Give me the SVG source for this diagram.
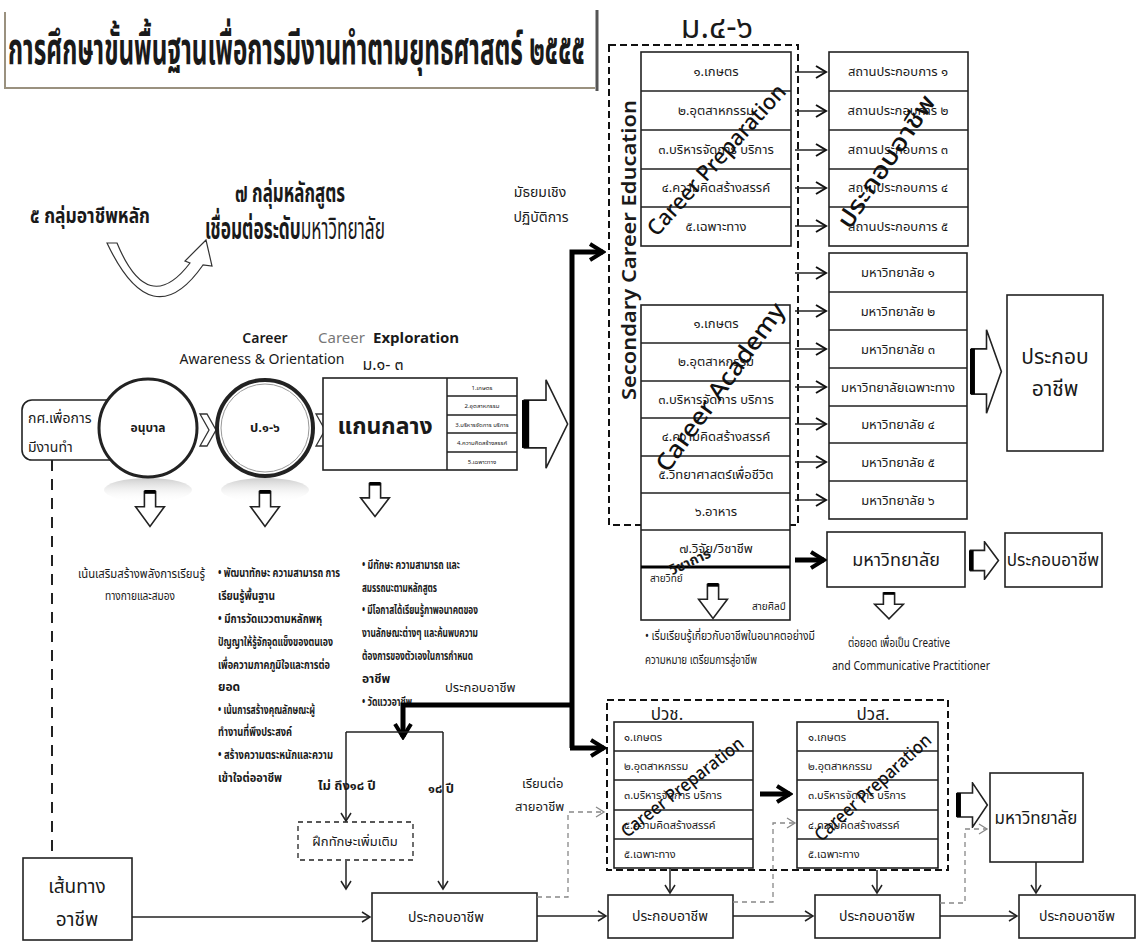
<svg xmlns="http://www.w3.org/2000/svg" width="1139" height="944" viewBox="0 0 1139 944">
<style>
text{font-family:"Noto Sans Thai","Noto Sans","DejaVu Sans",sans-serif;fill:#1a1a1a}
.c{text-anchor:middle}
.b{font-weight:bold}
.box{fill:#fff;stroke:#222;stroke-width:1.6}
.ln{fill:none;stroke:#222;stroke-width:1.5}
.dash{fill:none;stroke:#111;stroke-width:2;stroke-dasharray:7 4}
.gd{fill:none;stroke:#888;stroke-width:1.3;stroke-dasharray:5 4}
.thick{fill:none;stroke:#000;stroke-width:5}
.t11{font-size:11px}.t12{font-size:12px}.t13{font-size:13px}
.rot{font-weight:500;fill:#111}
</style>
<defs>
<marker id="v" viewBox="0 0 14 14" refX="12" refY="7" markerWidth="14" markerHeight="14" markerUnits="userSpaceOnUse" orient="auto"><path d="M2,1 L12,7 L2,13" fill="none" stroke="#111" stroke-width="2"/></marker>
<marker id="vs" viewBox="0 0 12 12" refX="10" refY="6" markerWidth="12" markerHeight="12" markerUnits="userSpaceOnUse" orient="auto"><path d="M2,1 L10,6 L2,11" fill="none" stroke="#222" stroke-width="1.5"/></marker>
<marker id="vg" viewBox="0 0 12 12" refX="10" refY="6" markerWidth="12" markerHeight="12" markerUnits="userSpaceOnUse" orient="auto"><path d="M2,1 L10,6 L2,11" fill="none" stroke="#888" stroke-width="1.3"/></marker>
<marker id="vb" viewBox="0 0 20 20" refX="17" refY="10" markerWidth="20" markerHeight="20" markerUnits="userSpaceOnUse" orient="auto"><path d="M4,2 L17,10 L4,18" fill="none" stroke="#000" stroke-width="4"/></marker>
<symbol id="harr" viewBox="0 0 40 100" preserveAspectRatio="none"><path d="M2,24 H20 V2 L38,50 L20,98 V76 H2 Z" fill="#fff" stroke="#222" stroke-width="1.6" vector-effect="non-scaling-stroke"/><rect x="0" y="24" width="6" height="52" fill="#000"/></symbol>
<symbol id="darr" viewBox="0 0 40 50" preserveAspectRatio="none"><path d="M13,2 H27 V22 H38 L20,48 L2,22 H13 Z" fill="#fff" stroke="#222" stroke-width="1.6" vector-effect="non-scaling-stroke"/><rect x="13" y="0" width="14" height="5" fill="#000"/></symbol>
<linearGradient id="shd" x1="0" y1="0" x2="0" y2="1"><stop offset="0" stop-color="#aaa" stop-opacity="0.6"/><stop offset="1" stop-color="#fff" stop-opacity="0"/></linearGradient>
</defs>

<g id="title">
<path d="M5,12 V88 H595" fill="none" stroke="#9a917f" stroke-width="2"/>
<path d="M597,10 V91" fill="none" stroke="#555" stroke-width="3"/>
<text x="8" y="64" class="b" font-size="44" textLength="577" lengthAdjust="spacingAndGlyphs">การศึกษาขั้นพื้นฐานเพื่อการมีงานทำตามยุทธศาสตร์ ๒๕๕๕</text>
</g>
<text x="717" y="38" class="c" font-size="32">ม.๔-๖</text>

<g id="labels-top">
<text x="30" y="223" class="b" font-size="22" textLength="120" lengthAdjust="spacingAndGlyphs">๕ กลุ่มอาชีพหลัก</text>
<text x="235" y="202" class="b" font-size="26" textLength="110" lengthAdjust="spacingAndGlyphs">๗ กลุ่มหลักสูตร</text>
<text x="205" y="239" font-size="30" textLength="180" lengthAdjust="spacingAndGlyphs"><tspan font-weight="bold">เชื่อมต่อระดับ</tspan>มหาวิทยาลัย</text>
<path d="M107,243 H117 Q148,318 190,263 L185,261 L206,240 L212,266 L203,265 Q152,338 107,243 Z" fill="#fff" stroke="#333" stroke-width="1.2"/>
<text x="540" y="197" class="c" font-size="14">มัธยมเชิง</text>
<text x="541" y="222" class="c" font-size="14">ปฏิบัติการ</text>
</g>

<g id="career-labels">
<text x="265" y="343" class="c" font-size="14" font-weight="600" fill="#333">Career</text>
<text x="262" y="364" class="c" font-size="14" textLength="165" lengthAdjust="spacingAndGlyphs">Awareness &amp; Orientation</text>
<text x="318" y="343" font-size="15" style="fill:#777">Career</text>
<text x="373" y="343" font-size="15" class="b">Exploration</text>
<text x="383" y="370" class="c" font-size="16">ม.๑- ๓</text>
</g>

<g id="node-kor-sor">
<rect x="22" y="400" width="100" height="60" rx="10" class="box" stroke-width="2.5"/>
<text x="28" y="423" font-size="14">กศ.เพื่อการ</text>
<text x="28" y="452" font-size="14">มีงานทำ</text>
</g>
<g id="node-anuban">
<ellipse cx="148" cy="490" rx="44" ry="12" fill="url(#shd)"/>
<circle cx="148" cy="428" r="49" fill="#fff" stroke="#222" stroke-width="3"/>
<text x="148" y="432" class="c b t12">อนุบาล</text>
</g>
<path id="chev1" d="M200,414 L207,414 L216,430 L207,446 L200,446 L209,430 Z" fill="#fff" stroke="#333" stroke-width="1.3"/>
<g id="node-p1-6">
<ellipse cx="265" cy="490" rx="44" ry="12" fill="url(#shd)"/>
<circle cx="265" cy="428" r="48" fill="#fff" stroke="#222" stroke-width="4"/>
<circle cx="265" cy="428" r="44" fill="none" stroke="#999" stroke-width="1"/>
<text x="265" y="432" class="c b" font-size="13">ป.๑-๖</text>
</g>
<path id="chev2" d="M316,414 L323,414 L332,430 L323,446 L316,446 L325,430 Z" fill="#fff" stroke="#333" stroke-width="1.3"/>

<g id="node-core">
<rect x="323" y="378" width="194" height="92" class="box"/>
<path d="M447,378 V470 M447,396 H517 M447,415 H517 M447,433 H517 M447,452 H517" class="ln" stroke-width="1.2"/>
<text x="482" y="390" class="c" font-size="6">1.เกษตร</text>
<text x="482" y="408" class="c" font-size="6">2.อุตสาหกรรม</text>
<text x="482" y="427" class="c" font-size="6">3.บริหารจัดการ บริการ</text>
<text x="482" y="445" class="c" font-size="6">4.ความคิดสร้างสรรค์</text>
<text x="482" y="464" class="c" font-size="6">5.เฉพาะทาง</text>
<text x="385" y="434" class="c b" font-size="23">แกนกลาง</text>
</g>
<use href="#harr" x="522" y="378" width="48" height="92"/>

<use href="#darr" x="134" y="490" width="32" height="38"/>
<use href="#darr" x="249" y="490" width="32" height="38"/>
<use href="#darr" x="359" y="482" width="32" height="36"/>

<g id="desc1" class="t12">
<text x="78" y="578" textLength="127" lengthAdjust="spacingAndGlyphs">เน้นเสริมสร้างพลังการเรียนรู้</text>
<text x="140" y="600" class="c" textLength="70" lengthAdjust="spacingAndGlyphs">ทางกายและสมอง</text>
</g>
<g id="desc2" class="t12 b">
<text x="218" y="577" textLength="122" lengthAdjust="spacingAndGlyphs">• พัฒนาทักษะ ความสามารถ การ</text>
<text x="218" y="600" textLength="57" lengthAdjust="spacingAndGlyphs">เรียนรู้พื้นฐาน</text>
<text x="218" y="623" textLength="104" lengthAdjust="spacingAndGlyphs">• มีการวัดแววตามหลักพหุ</text>
<text x="218" y="646" textLength="115" lengthAdjust="spacingAndGlyphs">ปัญญาให้รู้จักจุดแข็งของตนเอง</text>
<text x="218" y="669" textLength="112" lengthAdjust="spacingAndGlyphs">เพื่อความภาคภูมิใจและการต่อ</text>
<text x="218" y="691">ยอด</text>
<text x="218" y="714" textLength="97" lengthAdjust="spacingAndGlyphs">• เน้นการสร้างคุณลักษณะผู้</text>
<text x="218" y="736" textLength="74" lengthAdjust="spacingAndGlyphs">ทำงานที่พึงประสงค์</text>
<text x="218" y="759" textLength="115" lengthAdjust="spacingAndGlyphs">• สร้างความตระหนักและความ</text>
<text x="218" y="782" textLength="64" lengthAdjust="spacingAndGlyphs">เข้าใจต่ออาชีพ</text>
</g>
<g id="desc3" class="t12 b">
<text x="362" y="569" textLength="98" lengthAdjust="spacingAndGlyphs">• มีทักษะ ความสามารถ และ</text>
<text x="362" y="592" textLength="75" lengthAdjust="spacingAndGlyphs">สมรรถนะตามหลักสูตร</text>
<text x="362" y="614" textLength="116" lengthAdjust="spacingAndGlyphs">• มีโอกาสได้เรียนรู้ภาพอนาคตของ</text>
<text x="362" y="637" textLength="116" lengthAdjust="spacingAndGlyphs">งานลักษณะต่างๆ และค้นพบความ</text>
<text x="362" y="660" textLength="111" lengthAdjust="spacingAndGlyphs">ต้องการของตัวเองในการกำหนด</text>
<text x="362" y="683">อาชีพ</text>
<text x="362" y="706" textLength="50" lengthAdjust="spacingAndGlyphs">• วัดแววอาชีพ</text>
</g>

<g id="secondary-group">
<rect x="609" y="45" width="189" height="480" class="dash"/>
<text transform="translate(636,250) rotate(-90)" class="c" font-size="20" font-weight="600" textLength="300" lengthAdjust="spacingAndGlyphs">Secondary  Career  Education</text>
</g>

<g id="list-prep">
<rect x="641" y="52" width="150" height="194" class="box"/>
<path d="M641,91 H791 M641,130 H791 M641,169 H791 M641,207 H791" class="ln"/>
<text x="716" y="76" class="c t13">๑.เกษตร</text>
<text x="716" y="115" class="c t13">๒.อุตสาหกรรม</text>
<text x="716" y="154" class="c t13">๓.บริหารจัดการ บริการ</text>
<text x="716" y="192" class="c t13">๔.ความคิดสร้างสรรค์</text>
<text x="716" y="231" class="c t13">๕.เฉพาะทาง</text>
</g>
<g id="list-workplace">
<rect x="829" y="52" width="139" height="194" class="box"/>
<path d="M829,91 H968 M829,130 H968 M829,169 H968 M829,207 H968" class="ln"/>
<text x="898" y="76" class="c t13">สถานประกอบการ ๑</text>
<text x="898" y="115" class="c t13">สถานประกอบการ ๒</text>
<text x="898" y="154" class="c t13">สถานประกอบการ ๓</text>
<text x="898" y="192" class="c t13">สถานประกอบการ ๔</text>
<text x="898" y="231" class="c t13">สถานประกอบการ ๕</text>
</g>
<text transform="translate(722,165) rotate(-48)" class="c rot" font-size="22" textLength="195" lengthAdjust="spacingAndGlyphs">Career Preparation</text>
<text transform="translate(893,166) rotate(-56)" class="c rot" font-size="24" textLength="155" lengthAdjust="spacingAndGlyphs">ประกอบอาชีพ</text>

<g id="list-academy">
<rect x="641" y="305" width="149" height="315" class="box"/>
<path d="M641,343 H790 M641,381 H790 M641,418 H790 M641,456 H790 M641,493 H790 M641,530 H790" class="ln"/>
<path d="M641,567 H790" fill="none" stroke="#000" stroke-width="3"/>
<text x="716" y="328" class="c t13">๑.เกษตร</text>
<text x="716" y="366" class="c t13">๒.อุตสาหกรรม</text>
<text x="716" y="404" class="c t13">๓.บริหารจัดการ บริการ</text>
<text x="716" y="441" class="c t13">๔.ความคิดสร้างสรรค์</text>
<text x="716" y="479" class="c t13">๕.วิทยาศาสตร์เพื่อชีวิต</text>
<text x="716" y="516" class="c t13">๖.อาหาร</text>
<text x="716" y="553" class="c t13">๗.วิจัย/วิชาชีพ</text>
<text x="650" y="582" font-size="10">สายวิทย์</text>
<text x="752" y="610" font-size="10">สายศิลป์</text>
</g>
<use href="#darr" x="697" y="583" width="32" height="37"/>
<text transform="translate(727,392) rotate(-54)" class="c rot" font-size="24" textLength="202" lengthAdjust="spacingAndGlyphs">Career Academy</text>
<text transform="translate(692,566) rotate(-25)" class="c b" font-size="14">วิชาการ</text>

<g id="list-university">
<rect x="829" y="253" width="138" height="266" class="box"/>
<path d="M829,292 H967 M829,330 H967 M829,368 H967 M829,406 H967 M829,443 H967 M829,481 H967" class="ln"/>
<text x="898" y="277" class="c t13">มหาวิทยาลัย ๑</text>
<text x="898" y="316" class="c t13">มหาวิทยาลัย ๒</text>
<text x="898" y="354" class="c t13">มหาวิทยาลัย ๓</text>
<text x="898" y="392" class="c t13">มหาวิทยาลัยเฉพาะทาง</text>
<text x="898" y="429" class="c t13">มหาวิทยาลัย ๔</text>
<text x="898" y="467" class="c t13">มหาวิทยาลัย ๕</text>
<text x="898" y="505" class="c t13">มหาวิทยาลัย ๖</text>
</g>
<use href="#harr" x="970" y="328" width="33" height="87"/>
<g id="node-career-big">
<rect x="1007" y="295" width="96" height="156" class="box"/>
<text x="1055" y="364" class="c" font-size="21">ประกอบ</text>
<text x="1055" y="396" class="c" font-size="21">อาชีพ</text>
</g>

<g id="node-univ">
<rect x="827" y="532" width="138" height="55" class="box"/>
<text x="896" y="566" class="c" font-size="18">มหาวิทยาลัย</text>
</g>
<use href="#harr" x="969" y="541" width="31" height="39"/>
<g id="node-career-univ">
<rect x="1005" y="533" width="97" height="54" class="box"/>
<text x="1053" y="566" class="c" font-size="17">ประกอบอาชีพ</text>
</g>
<use href="#darr" x="873" y="592" width="32" height="28"/>

<text x="645" y="640" class="t12" textLength="170" lengthAdjust="spacingAndGlyphs">• เริ่มเรียนรู้เกี่ยวกับอาชีพในอนาคตอย่างมี</text>
<text x="645" y="664" class="t12" textLength="112" lengthAdjust="spacingAndGlyphs">ความหมาย เตรียมการสู่อาชีพ</text>
<text x="848" y="647" class="t12" textLength="102" lengthAdjust="spacingAndGlyphs">ต่อยอด เพื่อเป็น Creative</text>
<text x="832" y="670" class="t12" textLength="158" lengthAdjust="spacingAndGlyphs">and Communicative Practitioner</text>

<g id="vocational-group">
<rect x="607" y="700" width="341" height="170" class="dash"/>
<text x="667" y="720" class="c" font-size="17">ปวช.</text>
<text x="873" y="720" class="c" font-size="17">ปวส.</text>
</g>
<g id="list-pvc">
<rect x="614" y="722" width="139" height="146" class="box"/>
<path d="M614,751 H753 M614,780 H753 M614,810 H753 M614,839 H753" class="ln"/>
<text x="624" y="741" class="t11">๑.เกษตร</text>
<text x="624" y="770" class="t11">๒.อุตสาหกรรม</text>
<text x="624" y="799" class="t11">๓.บริหารจัดการ บริการ</text>
<text x="624" y="829" class="t11">๔.ความคิดสร้างสรรค์</text>
<text x="624" y="858" class="t11">๕.เฉพาะทาง</text>
</g>
<g id="list-pvs">
<rect x="797" y="722" width="141" height="146" class="box"/>
<path d="M797,751 H938 M797,780 H938 M797,810 H938 M797,839 H938" class="ln"/>
<text x="808" y="741" class="t11">๑.เกษตร</text>
<text x="808" y="770" class="t11">๒.อุตสาหกรรม</text>
<text x="808" y="799" class="t11">๓.บริหารจัดการ บริการ</text>
<text x="808" y="829" class="t11">๔.ความคิดสร้างสรรค์</text>
<text x="808" y="858" class="t11">๕.เฉพาะทาง</text>
</g>
<text transform="translate(686,792) rotate(-38)" class="c rot" font-size="18" textLength="150" lengthAdjust="spacingAndGlyphs">Career Preparation</text>
<text transform="translate(877,792) rotate(-42)" class="c rot" font-size="18" textLength="150" lengthAdjust="spacingAndGlyphs">Career Preparation</text>
<use href="#harr" x="956" y="782" width="33" height="46"/>
<g id="node-univ2">
<rect x="990" y="773" width="93" height="89" class="box"/>
<text x="1036" y="824" class="c" font-size="17">มหาวิทยาลัย</text>
</g>

<g id="node-train">
<rect x="298" y="822" width="115" height="38" fill="#fff" stroke="#222" stroke-width="1.3" stroke-dasharray="5 4"/>
<text x="355" y="846" class="c t13">ฝึกทักษะเพิ่มเติม</text>
</g>

<g id="node-path">
<rect x="23" y="858" width="109" height="82" class="box"/>
<text x="77" y="893" class="c" font-size="19">เส้นทาง</text>
<text x="77" y="926" class="c" font-size="19">อาชีพ</text>
</g>
<g id="node-job1"><rect x="372" y="893" width="165" height="48" class="box"/><text x="446" y="922" class="c" font-size="14">ประกอบอาชีพ</text></g>
<g id="node-job2"><rect x="608" y="895" width="125" height="43" class="box"/><text x="670" y="921" class="c" font-size="14">ประกอบอาชีพ</text></g>
<g id="node-job3"><rect x="815" y="895" width="125" height="43" class="box"/><text x="877" y="921" class="c" font-size="14">ประกอบอาชีพ</text></g>
<g id="node-job4"><rect x="1019" y="895" width="116" height="43" class="box"/><text x="1077" y="921" class="c" font-size="14">ประกอบอาชีพ</text></g>

<g id="connectors">
<path d="M795,72 H826" class="ln" stroke-width="2" marker-end="url(#v)"/>
<path d="M795,111 H826" class="ln" stroke-width="2" marker-end="url(#v)"/>
<path d="M795,150 H826" class="ln" stroke-width="2" marker-end="url(#v)"/>
<path d="M795,188 H826" class="ln" stroke-width="2" marker-end="url(#v)"/>
<path d="M795,226 H826" class="ln" stroke-width="2" marker-end="url(#v)"/>
<path d="M795,273 H826" class="ln" stroke-width="2" marker-end="url(#v)"/>
<path d="M795,311 H826" class="ln" stroke-width="2" marker-end="url(#v)"/>
<path d="M795,349 H826" class="ln" stroke-width="2" marker-end="url(#v)"/>
<path d="M795,387 H826" class="ln" stroke-width="2" marker-end="url(#v)"/>
<path d="M795,424 H826" class="ln" stroke-width="2" marker-end="url(#v)"/>
<path d="M795,462 H826" class="ln" stroke-width="2" marker-end="url(#v)"/>
<path d="M795,500 H826" class="ln" stroke-width="2" marker-end="url(#v)"/>
<path d="M795,560 H824" class="thick" stroke-width="3.5" marker-end="url(#vb)"/>
<path d="M760,794 H790" class="thick" stroke-width="3.5" marker-end="url(#vb)"/>
<path d="M572,748 V252 H603" class="thick" marker-end="url(#vb)"/>
<path d="M570,748 H604" class="thick" marker-end="url(#vb)"/>
<path d="M574,705 H403 V737" class="thick" marker-end="url(#vb)"/>
<path d="M346,732 H443" class="ln" stroke-width="1.3"/>
<path d="M346,732 V821" class="ln" stroke-width="1.3" marker-end="url(#vs)"/>
<path d="M443,732 V889" class="ln" stroke-width="1.3" marker-end="url(#vs)"/>
<path d="M346,861 V889" class="ln" stroke-width="1.3" marker-end="url(#vs)"/>
<path d="M52,460 V858" fill="none" stroke="#222" stroke-width="2" stroke-dasharray="11 8"/>
<path d="M132,917 H370" class="ln" marker-end="url(#vs)"/>
<path d="M537,916 H606" class="ln" marker-end="url(#vs)"/>
<path d="M733,916 H813" class="ln" marker-end="url(#vs)"/>
<path d="M940,916 H1017" class="ln" marker-end="url(#vs)"/>
<path d="M670,868 V893" class="ln" marker-end="url(#vs)"/>
<path d="M877,870 V893" class="ln" marker-end="url(#vs)"/>
<path d="M1036,862 V893" class="ln" marker-end="url(#vs)"/>
<path d="M537,897 H568 V812 H604" class="gd" marker-end="url(#vg)"/>
<path d="M733,902 H773 V823 H795" class="gd" marker-end="url(#vg)"/>
<path d="M940,903 H965 V829 H987" class="gd" marker-end="url(#vg)"/>
</g>

<g id="side-labels">
<text x="445" y="692" class="t13">ประกอบอาชีพ</text>
<text x="522" y="788" class="t13">เรียนต่อ</text>
<text x="515" y="811" class="t13">สายอาชีพ</text>
<text x="318" y="790" class="t13 b">ไม่ ถึง๑๘ ปี</text>
<text x="428" y="793" class="t13 b">๑๘ ปี</text>
</g>
</svg>
